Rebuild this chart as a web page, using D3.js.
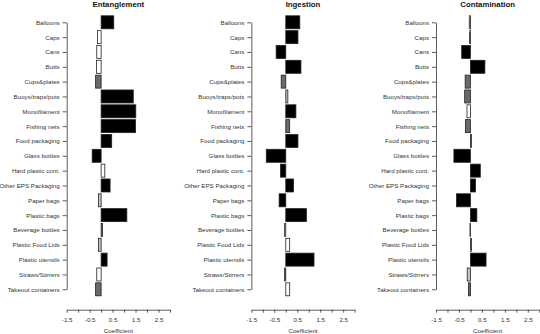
<!DOCTYPE html>
<html>
<head>
<meta charset="utf-8">
<script src="https://cdn.jsdelivr.net/npm/d3@7/dist/d3.min.js"></script>
<style>
  html, body { margin: 0; padding: 0; background: #fff; }
  svg { display: block; }
  text { font-family: "Liberation Sans", Arial, sans-serif; fill: #333; }
</style>
</head>
<body>
<svg id="chart" width="540" height="334"></svg>
<script>
// Debris categories (top to bottom)
const categories = [
  "Balloons", "Caps", "Cans", "Butts", "Cups&plates", "Buoys/traps/pots",
  "Monofilament", "Fishing nets", "Food packaging", "Glass bottles",
  "Hard plastic cont.", "Other EPS Packaging", "Paper bags", "Plastic bags",
  "Beverage bottles", "Plastic Food Lids", "Plastic utensils", "Straws/Stirrers",
  "Takeout containers"
];

// Panel titles
const panels = ["Entanglement", "Ingestion", "Contamination"];

// Model coefficients per panel
const entanglement = [0.55, -0.16, -0.19, -0.2, -0.24, 1.40, 1.51, 1.50, 0.46, -0.39,
                      0.16, 0.39, -0.12, 1.12, 0.06, -0.12, 0.26, -0.19, -0.24];
const ingestion    = [0.61, 0.53, -0.42, 0.66, -0.2, 0.09, 0.44, 0.17, 0.53, -0.85,
                      -0.23, 0.34, -0.29, 0.90, -0.05, 0.17, 1.23, -0.05, 0.17];
const contamination = [-0.05, -0.04, -0.38, 0.63, -0.23, -0.25, -0.15, -0.22, 0.05, -0.72,
                       0.43, 0.22, -0.61, 0.28, -0.02, 0.05, 0.68, -0.14, -0.09];

// Significance class per bar: 3 = strongest ... 0 = none
const entSig = [3, 0, 0, 0, 2, 3, 3, 3, 3, 3, 0, 3, 1, 3, 2, 1, 3, 0, 2];
const ingSig = [3, 3, 3, 3, 2, 1, 3, 2, 3, 3, 3, 3, 3, 3, 1, 0, 3, 2, 0];
const conSig = [1, 1, 3, 3, 2, 2, 0, 2, 1, 3, 3, 3, 3, 3, 2, 1, 3, 1, 2];

// Axis ticks
const xTicks = [-1.5, -1.0, -0.5, 0, 0.5, 1.0, 1.5, 2.0, 2.5, 3.0];
const xTickLabels = ["-1.5", "", "-0.5", "", "0.5", "", "1.5", "", "2.5", ""];

const series = [entanglement, ingestion, contamination];
const sigs = [entSig, ingSig, conSig];

const svg = d3.select("#chart");

const fillScale = d3.scaleOrdinal()
  .domain([0, 1, 2, 3])
  .range(["#ffffff", "#c4c4c4", "#6a6a6a", "#000000"]);

const y = d3.scalePoint()
  .domain(categories)
  .range([22.3, 289.3])
  .padding(0);

const barH = 13;
const panelStep = 184.65;
const plotLeft = 66.7;
const plotW = 103.3;
const axisY = 309.7;
const labelFont = "6.2px";

panels.forEach((title, i) => {
  const left = plotLeft + i * panelStep;
  const x = d3.scaleLinear().domain([-1.5, 3.0]).range([left, left + plotW]);
  const g = svg.append("g");

  // title
  g.append("text")
    .attr("x", left + plotW / 2)
    .attr("y", 7)
    .attr("text-anchor", "middle")
    .style("font-size", "7.8px")
    .style("font-weight", "bold")
    .style("fill", "#111")
    .text(title);

  // bars
  g.selectAll("rect.bar")
    .data(categories.map((c, j) => ({ c, v: series[i][j], s: sigs[i][j] })))
    .join("rect")
    .attr("class", "bar")
    .attr("x", d => Math.min(x(0), x(d.v)))
    .attr("width", d => Math.abs(x(d.v) - x(0)))
    .attr("y", d => y(d.c) - barH / 2)
    .attr("height", barH)
    .attr("fill", d => fillScale(d.s))
    .attr("stroke", "#222")
    .attr("stroke-width", 0.8);

  // category axis
  const ya = g.append("g")
    .attr("transform", `translate(${left},0)`)
    .call(d3.axisLeft(y).tickSize(4).tickSizeOuter(0).tickPadding(3));
  ya.select(".domain").attr("stroke", "#333").attr("stroke-width", 0.8);
  ya.selectAll(".tick line").attr("stroke", "#333").attr("stroke-width", 0.8);
  ya.selectAll(".tick text").style("font-size", labelFont).style("font-family", "Liberation Sans, Arial, sans-serif").attr("fill", "#333");

  // coefficient axis
  const xa = g.append("g")
    .attr("transform", `translate(0,${axisY})`)
    .call(d3.axisBottom(x).tickValues(xTicks).tickSize(3).tickSizeOuter(0).tickPadding(5)
      .tickFormat((d, k) => xTickLabels[k]));
  xa.select(".domain").attr("stroke", "#333").attr("stroke-width", 0.8);
  xa.selectAll(".tick line").attr("stroke", "#333").attr("stroke-width", 0.8);
  xa.selectAll(".tick text").style("font-size", labelFont).style("font-family", "Liberation Sans, Arial, sans-serif").attr("fill", "#333");

  g.append("text")
    .attr("x", left + plotW / 2)
    .attr("y", 333)
    .attr("text-anchor", "middle")
    .style("font-size", labelFont)
    .text("Coefficient");
});
</script>
</body>
</html>
